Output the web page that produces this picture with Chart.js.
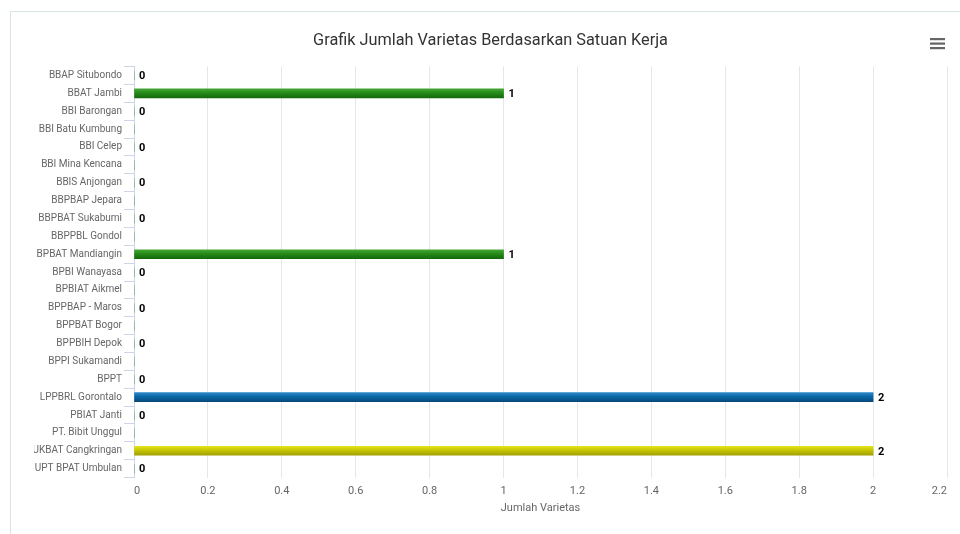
<!DOCTYPE html>
<html>
<head>
<meta charset="utf-8">
<title>Grafik Jumlah Varietas</title>
<script src="https://cdn.jsdelivr.net/npm/chart.js@4/dist/chart.umd.min.js"></script>
<style>
  html, body { margin: 0; padding: 0; background: #fff; overflow: hidden; }
  #frame {
    position: absolute; left: 10px; top: 11px; width: 960px; height: 523px;
    border-left: 1px solid #d8e4e4; border-top: 1px solid #d8e4e4;
    box-sizing: border-box;
  }
  #frame canvas { position: absolute; left: 0; top: 0; }
</style>
</head>
<body>
<div id="frame"><canvas id="chart" width="959" height="522"></canvas></div>
<script>
// data
const units = [
  'BBAP Situbondo', 'BBAT Jambi', 'BBI Barongan', 'BBI Batu Kumbung', 'BBI Celep',
  'BBI Mina Kencana', 'BBIS Anjongan', 'BBPBAP Jepara', 'BBPBAT Sukabumi', 'BBPPBL Gondol',
  'BPBAT Mandiangin', 'BPBI Wanayasa', 'BPBIAT Aikmel', 'BPPBAP - Maros', 'BPPBAT Bogor',
  'BPPBIH Depok', 'BPPI Sukamandi', 'BPPT', 'LPPBRL Gorontalo', 'PBIAT Janti',
  'PT. Bibit Unggul', 'UKBAT Cangkringan', 'UPT BPAT Umbulan'
];
const jumlahVarietas = [0, 1, 0, 0, 0, 0, 0, 0, 0, 0, 1, 0, 0, 0, 0, 0, 0, 0, 2, 0, 0, 2, 0];
const barColors = [
  'green', 'green', 'green', 'green', 'green', 'green', 'green', 'green', 'green', 'green',
  'green', 'green', 'green', 'green', 'green', 'green', 'green', 'green', 'blue', 'green',
  'green', 'yellow', 'green'
];
const xTicks = [0, 0.2, 0.4, 0.6, 0.8, 1, 1.2, 1.4, 1.6, 1.8, 2, 2.2];

const gradients = {
  green: ['#45a535', '#248b18', '#15690c'],
  blue: ['#2a88c6', '#0b66a6', '#074a7a'],
  yellow: ['#e4e41c', '#c6c400', '#a2a000']
};

function barFill(ctx) {
  const chart = ctx.chart;
  const stops = gradients[barColors[ctx.dataIndex]] || gradients.green;
  if (!chart.chartArea || !chart.scales.y) return stops[1];
  const y = chart.scales.y.getPixelForValue(ctx.dataIndex);
  const g = chart.ctx.createLinearGradient(0, y - 4.5, 0, y + 4.5);
  g.addColorStop(0, stops[0]);
  g.addColorStop(0.45, stops[1]);
  g.addColorStop(1, stops[2]);
  return g;
}

// value labels, hidden when they collide with one already drawn (like Highcharts)
const valueLabels = {
  id: 'valueLabels',
  afterDatasetsDraw(chart) {
    const c = chart.ctx;
    const meta = chart.getDatasetMeta(0);
    const drawn = [];
    c.save();
    c.font = 'bold 11px Roboto';
    c.textBaseline = 'middle';
    c.textAlign = 'left';
    meta.data.forEach((bar, i) => {
      const text = String(jumlahVarietas[i]);
      const x = bar.x + 5;
      const y = bar.y;
      const w = c.measureText(text).width;
      const box = { l: x - 5, r: x + w + 5, t: y - 11, b: y + 11 };
      const hit = drawn.some(d => box.l < d.r && box.r > d.l && box.t < d.b && box.b > d.t);
      if (hit) return;
      drawn.push(box);
      c.lineWidth = 2;
      c.strokeStyle = '#fff';
      c.lineJoin = 'round';
      c.strokeText(text, x, y + 1);
      c.fillStyle = '#000';
      c.fillText(text, x, y + 1);
    });
    c.restore();
  }
};

// context menu button
const menuIcon = {
  id: 'menuIcon',
  afterDraw(chart) {
    const c = chart.ctx;
    c.save();
    c.fillStyle = '#666';
    [26, 30.5, 35].forEach(y => c.fillRect(919, y, 15, 2.2));
    c.restore();
  }
};

const ctx = document.getElementById('chart').getContext('2d');
const myChart = new Chart(ctx, {
  type: 'bar',
  data: {
    labels: units,
    datasets: [{
      label: 'Jumlah Varietas',
      data: jumlahVarietas,
      backgroundColor: barFill,
      barThickness: 9,
      borderWidth: 0
    }]
  },
  plugins: [valueLabels, menuIcon],
  options: {
    indexAxis: 'y',
    responsive: false,
    animation: false,
    layout: { padding: { left: 23, right: 23, top: 0, bottom: 19 } },
    plugins: {
      legend: { display: false },
      tooltip: { enabled: false },
      title: {
        display: true,
        text: 'Grafik Jumlah Varietas Berdasarkan Satuan Kerja',
        color: '#333',
        font: { family: 'Roboto', size: 16.3, weight: 'normal' },
        padding: { top: 19, bottom: 16 }
      }
    },
    scales: {
      x: {
        min: 0,
        max: 2.2,
        afterBuildTicks(scale) {
          scale.ticks = xTicks.map(v => ({ value: v }));
        },
        ticks: {
          color: '#666',
          font: { family: 'Roboto', size: 11 },
          padding: 7,
          maxRotation: 0,
          align: 'inner',
          callback: v => String(Math.round(v * 10) / 10)
        },
        grid: { color: '#e6e6e6', drawTicks: false },
        border: { display: false },
        title: {
          display: true,
          text: 'Jumlah Varietas',
          color: '#666',
          font: { family: 'Roboto', size: 11 },
          padding: { top: -3, bottom: 0 }
        }
      },
      y: {
        afterFit(scale) { scale.width = 100; },
        ticks: {
          color: '#666',
          font: { family: 'Roboto', size: 10 },
          padding: 2,
          autoSkip: false
        },
        grid: {
          drawOnChartArea: false,
          drawTicks: true,
          tickLength: 10,
          tickColor: '#ccd6eb',
          offset: true
        },
        border: { display: true, color: '#ccd6eb' }
      }
    }
  }
});
</script>
</body>
</html>
